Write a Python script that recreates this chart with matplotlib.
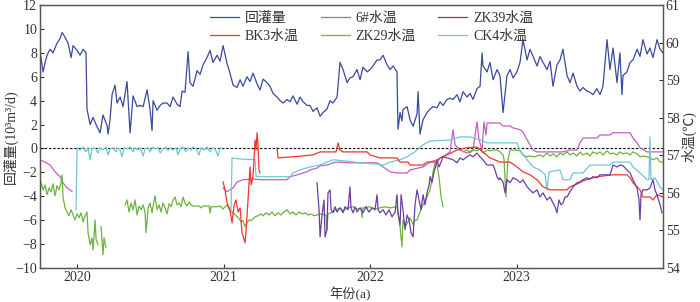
import numpy as np
import matplotlib
matplotlib.use("Agg")
import matplotlib.pyplot as plt

plt.rcParams['font.family'] = ['Liberation Serif', 'Noto Sans CJK SC', 'DejaVu Sans']
plt.rcParams['axes.unicode_minus'] = True
nan = np.nan

# ---------------- data (time in decimal years) ----------------
recharge_t = [2019.747, 2019.768, 2019.782, 2019.795, 2019.816, 2019.836, 2019.863, 2019.884, 2019.898, 2019.918,
              2019.939, 2019.959, 2019.973, 2020.000, 2020.020, 2020.041, 2020.061, 2020.068, 2020.089, 2020.109,
              2020.137, 2020.157, 2020.177, 2020.205, 2020.212, 2020.225, 2020.239, 2020.259, 2020.273, 2020.294,
              2020.314, 2020.341, 2020.362, 2020.382, 2020.410, 2020.430, 2020.451, 2020.478, 2020.498, 2020.512,
              2020.519, 2020.546, 2020.567, 2020.587, 2020.614, 2020.635, 2020.655, 2020.683, 2020.703, 2020.717,
              2020.737, 2020.758, 2020.771, 2020.792, 2020.819, 2020.840, 2020.860, 2020.887, 2020.908, 2020.928,
              2020.956, 2020.976, 2020.997, 2021.024, 2021.044, 2021.065, 2021.092, 2021.113, 2021.133, 2021.160,
              2021.181, 2021.201, 2021.229, 2021.249, 2021.270, 2021.297, 2021.317, 2021.338, 2021.365, 2021.386,
              2021.406, 2021.433, 2021.454, 2021.474, 2021.502, 2021.522, 2021.543, 2021.570, 2021.590, 2021.611,
              2021.638, 2021.659, 2021.679, 2021.706, 2021.727, 2021.747, 2021.775, 2021.795, 2021.816, 2021.843,
              2021.863, 2021.884, 2021.911, 2021.932, 2021.952, 2021.980, 2022.000, 2022.020, 2022.048, 2022.068,
              2022.089, 2022.116, 2022.137, 2022.157, 2022.184, 2022.191, 2022.205, 2022.218, 2022.225, 2022.253,
              2022.273, 2022.294, 2022.321, 2022.328, 2022.341, 2022.362, 2022.389, 2022.410, 2022.430, 2022.457,
              2022.478, 2022.498, 2022.526, 2022.546, 2022.567, 2022.594, 2022.614, 2022.635, 2022.662, 2022.683,
              2022.703, 2022.730, 2022.751, 2022.765, 2022.771, 2022.799, 2022.819, 2022.840, 2022.867, 2022.887,
              2022.908, 2022.935, 2022.956, 2022.976, 2023.003, 2023.024, 2023.044, 2023.072, 2023.092, 2023.113,
              2023.140, 2023.160, 2023.181, 2023.208, 2023.229, 2023.249, 2023.276, 2023.297, 2023.317, 2023.345,
              2023.365, 2023.386, 2023.413, 2023.433, 2023.454, 2023.481, 2023.502, 2023.522, 2023.549, 2023.570,
              2023.590, 2023.618, 2023.638, 2023.659, 2023.686, 2023.706, 2023.720, 2023.727, 2023.754, 2023.775,
              2023.795, 2023.823, 2023.843, 2023.863, 2023.891, 2023.911, 2023.932, 2023.959, 2023.980, 2024.000]
recharge_v = [8.1, 6.4, 7.2, 7.8, 8.3, 8.0, 8.8, 9.2, 9.7, 9.3,
              8.8, 7.6, 8.6, 8.2, 7.8, 8.3, 8.0, 3.3, 2.0, 2.6,
              1.8, 1.3, 2.8, 1.9, 1.2, 2.4, 4.5, 5.3, 3.8, 4.3,
              3.5, 5.6, 1.3, 4.4, 3.5, 3.6, 3.5, 4.9, 3.3, 1.5,
              4.0, 3.2, 3.6, 3.8, 3.8, 3.5, 4.3, 3.7, 3.5, 4.8,
              4.7, 8.1, 5.5, 5.2, 6.5, 6.2, 7.0, 7.6, 8.2, 7.2,
              7.8, 7.3, 8.6, 7.1, 6.3, 5.3, 5.1, 5.75, 5.2, 6.0,
              5.6, 6.3, 5.4, 4.9, 5.8, 5.5, 5.2, 4.6, 4.3, 4.0,
              3.8, 4.1, 3.9, 4.4, 3.7, 4.3, 3.9, 3.6, 3.6, 3.1,
              3.4, 2.7, 3.0, 3.3, 4.0, 3.8, 4.3, 7.2, 6.6, 5.5,
              5.9, 6.0, 6.6, 5.75, 6.8, 6.4, 6.6, 6.9, 7.4, 7.4,
              7.8, 7.0, 6.6, 6.9, 6.4, 1.6, 3.0, 2.3, 3.25, 3.5,
              2.4, 1.85, 2.9, 4.75, 1.2, 2.4, 3.0, 3.3, 3.5, 3.4,
              3.9, 3.6, 4.1, 4.2, 4.1, 4.5, 3.9, 4.75, 4.3, 4.6,
              4.1, 5.0, 5.2, 8.0, 6.9, 6.4, 7.2, 5.75, 6.6, 6.1,
              3.0, 6.1, 6.6, 5.9, 6.4, 7.2, 9.1, 7.4, 8.3, 7.7,
              6.9, 7.7, 7.2, 6.6, 7.3, 5.2, 7.0, 7.4, 8.3, 6.1,
              5.5, 6.3, 5.2, 4.8, 5.1, 4.8, 4.7, 4.5, 5.0, 4.5,
              5.2, 9.1, 6.6, 8.4, 5.5, 8.0, 4.5, 6.1, 6.4, 7.2,
              7.4, 8.3, 7.7, 9.1, 7.9, 8.4, 7.6, 9.1, 8.3, 8.0]

bk3_t = [2020.997, 2021.010, 2021.024, 2021.044, 2021.058, 2021.072, 2021.085, 2021.099, 2021.113, 2021.126,
         2021.147, 2021.154, 2021.167, 2021.181, 2021.188, 2021.201, 2021.208, 2021.215, 2021.222, 2021.229,
         2021.235, 2021.242, 2021.249, 2021.300,
         2021.365, 2021.372, 2021.474, 2021.611, 2021.659, 2021.768, 2021.775, 2021.782, 2021.795, 2021.816,
         2021.980, 2022.000, 2022.068, 2022.184, 2022.205, 2022.259, 2022.273, 2022.362, 2022.389, 2022.457,
         2022.478, 2022.526, 2022.594, 2022.662, 2022.730, 2022.771, 2022.819, 2022.887, 2022.956, 2023.003,
         2023.044, 2023.092, 2023.140, 2023.181, 2023.229, 2023.345, 2023.365, 2023.433, 2023.454, 2023.549,
         2023.659, 2023.754, 2023.775, 2023.795, 2023.823, 2023.843, 2023.863, 2023.911, 2023.932, 2023.959,
         2023.980, 2024.000]
bk3_v = [56.29, 56.08, 55.73, 55.55, 55.20, 55.68, 55.81, 55.49, 55.60, 54.94,
         54.67, 55.02, 55.81, 56.69, 56.21, 56.43, 56.88, 57.41, 57.14, 57.60,
         57.28, 56.61, 56.53, nan,
         57.20, 56.93, 56.96, 57.01, 57.09, 57.09, 57.22, 57.33, 57.14, 57.09,
         57.09, 57.01, 56.93, 56.93, 56.82, 56.82, 56.74, 56.74, 56.82, 56.82,
         56.93, 57.01, 57.14, 57.20, 57.22, 57.09, 56.93, 56.82, 56.82, 56.69,
         56.56, 56.48, 56.35, 56.16, 56.08, 56.08, 56.16, 56.27, 56.32, 56.43,
         56.48, 56.48, 56.40, 56.27, 56.16, 56.08, 55.89, 55.89, 55.81, 55.95,
         55.92, 55.89]

w6_t = [2019.747, 2019.782, 2019.816, 2019.850, 2019.884, 2019.904, 2019.932, 2019.952, 2019.966, 2020.500,
        2020.997, 2021.024, 2021.044, 2021.065, 2021.092, 2021.113, 2021.133, 2021.201, 2021.249, 2021.433,
        2021.454, 2021.502, 2021.543, 2021.570, 2021.590, 2021.638, 2021.659, 2021.706, 2021.747, 2021.775,
        2021.863, 2022.048, 2022.089, 2022.137, 2022.184, 2022.253, 2022.273, 2022.362, 2022.410, 2022.457,
        2022.498, 2022.546, 2022.567, 2022.580, 2022.614, 2022.662, 2022.703, 2022.730, 2022.744, 2022.765,
        2022.778, 2022.792, 2022.799, 2022.887, 2022.908, 2022.956, 2022.976, 2023.024, 2023.044, 2023.072,
        2023.092, 2023.113, 2023.140, 2023.317, 2023.365, 2023.413, 2023.433, 2023.454, 2023.549, 2023.570,
        2023.638, 2023.659, 2023.775, 2023.795, 2023.823, 2023.843, 2023.891, 2024.000]
w6_v = [56.88, 56.82, 56.74, 56.56, 56.43, 56.27, 56.13, 56.08, 56.03, nan,
        56.13, 56.03, 56.08, 56.13, 56.29, 56.32, 56.35, 56.37, 56.35, 56.35,
        56.43, 56.48, 56.53, 56.56, 56.61, 56.66, 56.72, 56.74, 56.80, 56.82,
        56.80, 56.80, 56.69, 56.56, 56.53, 56.53, 56.61, 56.69, 56.82, 56.88,
        56.96, 57.09, 57.68, 57.28, 57.14, 57.06, 57.14, 57.89, 57.41, 57.14,
        57.89, 57.54, 57.86, 57.86, 57.78, 57.78, 57.73, 57.68, 57.62, 57.41,
        57.28, 57.14, 57.09, 57.09, 57.14, 57.14, 57.33, 57.46, 57.46, 57.54,
        57.54, 57.60, 57.60, 57.46, 57.33, 57.20, 57.09, 57.09]

zk29_t = [2019.747, 2019.754, 2019.768, 2019.782, 2019.795, 2019.809, 2019.823, 2019.836, 2019.850, 2019.863,
          2019.877, 2019.891, 2019.898, 2019.904, 2019.918, 2019.932, 2019.945, 2019.959, 2019.973, 2019.986,
          2020.000, 2020.014, 2020.027, 2020.041, 2020.055, 2020.068, 2020.075, 2020.089, 2020.102, 2020.109,
          2020.123, 2020.130, 2020.143, 2020.150, 2020.164, 2020.177, 2020.184, 2020.198, 2020.260,
          2020.328, 2020.341, 2020.355, 2020.369, 2020.382, 2020.396, 2020.410, 2020.423, 2020.437, 2020.451,
          2020.464, 2020.471, 2020.485, 2020.498, 2020.512, 2020.526, 2020.532, 2020.546, 2020.560, 2020.573,
          2020.587, 2020.601, 2020.614, 2020.628, 2020.642, 2020.655, 2020.669, 2020.683, 2020.696, 2020.710,
          2020.724, 2020.737, 2020.751, 2020.765, 2020.778, 2020.792, 2020.833, 2020.846, 2020.860, 2020.901,
          2020.908, 2020.915, 2020.956, 2020.976, 2020.997, 2021.010, 2021.024, 2021.044, 2021.065, 2021.085,
          2021.106, 2021.119, 2021.133, 2021.147, 2021.160, 2021.174, 2021.188, 2021.201, 2021.215, 2021.235,
          2021.256, 2021.270, 2021.290, 2021.311, 2021.331, 2021.352, 2021.372, 2021.392, 2021.413, 2021.433,
          2021.454, 2021.474, 2021.495, 2021.515, 2021.536, 2021.556, 2021.577, 2021.597, 2021.618, 2021.638,
          2021.659, 2021.700, 2021.706, 2021.713, 2021.747, 2021.768, 2021.795, 2021.816, 2021.843, 2021.884,
          2021.911, 2021.939, 2021.945, 2021.952, 2022.000, 2022.034, 2022.068, 2022.102, 2022.137, 2022.184,
          2022.198, 2022.205, 2022.218, 2022.225, 2022.239, 2022.259, 2022.273, 2022.294, 2022.307, 2022.321,
          2022.341, 2022.362, 2022.389, 2022.410, 2022.430, 2022.444, 2022.457, 2022.471, 2022.485, 2022.498,
          2022.560,
          2022.635, 2022.662, 2022.683, 2022.703, 2022.730, 2022.751, 2022.771, 2022.799, 2022.819, 2022.840,
          2022.867, 2022.887, 2022.908, 2022.915, 2022.922, 2022.928, 2022.935, 2022.942, 2022.956, 2022.990,
          2023.024, 2023.044, 2023.072, 2023.092, 2023.126, 2023.160, 2023.181, 2023.208, 2023.229, 2023.249,
          2023.276, 2023.297, 2023.317, 2023.345, 2023.365, 2023.386, 2023.413, 2023.433, 2023.454, 2023.481,
          2023.502, 2023.522, 2023.549, 2023.570, 2023.590, 2023.618, 2023.638, 2023.659, 2023.686, 2023.706,
          2023.727, 2023.754, 2023.775, 2023.795, 2023.823, 2023.843, 2023.863, 2023.891, 2023.911, 2023.932,
          2023.959, 2023.980, 2024.000]
zk29_v = [55.89, 56.29, 56.08, 56.21, 55.95, 56.13, 56.03, 56.24, 55.92, 56.19,
          56.08, 56.27, 56.48, 55.89, 55.60, 55.49, 55.39, 55.55, 55.41, 55.28,
          55.44, 55.34, 55.47, 55.23, 55.39, 55.49, 54.94, 54.62, 54.80, 54.48,
          55.28, 54.75, 54.62, nan, 55.10, 54.35, 54.80, 54.54, nan,
          55.68, 55.81, 55.49, 55.73, 55.55, 55.81, 55.41, 55.65, 55.55, 55.68,
          55.49, 54.94, 55.60, 55.73, 55.47, 55.81, 55.92, 55.55, 55.68, 55.49,
          55.73, 55.60, 55.44, 55.71, 55.63, 55.81, 55.89, 55.68, 55.73, 55.63,
          55.89, 55.73, 55.65, 55.76, 55.68, 55.65, 55.65, 55.60, 55.65, 55.65,
          55.47, 55.63, 55.63, 55.65, 55.57, 55.63, 55.68, 55.52, 55.47, 55.39,
          55.31, 55.23, 55.26, 55.10, 55.20, 55.28, 55.26, 55.31, 55.36, 55.39,
          55.44, 55.39, 55.47, 55.41, 55.49, 55.39, 55.47, 55.41, 55.49, 55.55,
          55.44, 55.49, 55.41, 55.49, 55.44, 55.47, 55.41, 55.44, 55.39, 55.41,
          55.44, 55.41, 55.02, 55.44, 55.49, 55.55, 55.60, 55.52, 55.60, 55.63,
          55.57, 55.60, 55.34, 55.60, 55.63, 55.57, 55.60, 55.63, 55.60, 55.63,
          55.28, 55.10, 54.56, 55.28, 55.10, 55.23, 55.34, 55.15, 55.28, 55.28,
          55.49, 55.68, 55.89, 56.08, 56.56, 56.80, 56.74, 56.43, 55.89, 55.63,
          nan,
          57.09, 57.14, 57.06, 57.14, 57.12, 57.17, 57.06, 57.14, 57.12, 57.14,
          57.14, 57.09, 57.01, 56.88, 56.35, 55.89, 56.48, 56.88, 57.14, 57.14,
          57.12, 57.01, 56.96, 56.98, 56.96, 57.01, 56.96, 57.06, 56.98, 57.04,
          56.96, 57.06, 57.01, 57.09, 57.01, 57.06, 56.98, 57.09, 57.01, 57.06,
          56.98, 57.09, 57.04, 57.09, 57.01, 57.12, 57.04, 57.06, 57.01, 57.09,
          57.04, 57.06, 57.01, 57.09, 57.04, 56.96, 56.98, 56.96, 56.93, 56.88,
          56.93, 56.82, 56.82]

zk39_t = [2021.638, 2021.652, 2021.659, 2021.672, 2021.686, 2021.693, 2021.706, 2021.713, 2021.727, 2021.734,
          2021.747, 2021.761, 2021.775, 2021.795, 2021.816, 2021.829, 2021.850, 2021.863, 2021.870, 2021.884,
          2021.898, 2021.911, 2021.932, 2021.952, 2021.973, 2021.993, 2022.014, 2022.034, 2022.048, 2022.055,
          2022.068, 2022.089, 2022.109, 2022.130, 2022.150, 2022.171, 2022.184, 2022.191, 2022.205, 2022.212,
          2022.225, 2022.239, 2022.253, 2022.266, 2022.280, 2022.294, 2022.307, 2022.321, 2022.335, 2022.348,
          2022.362, 2022.375, 2022.389, 2022.403, 2022.410, 2022.423, 2022.437, 2022.451, 2022.457, 2022.471,
          2022.485, 2022.498, 2022.526, 2022.567, 2022.594, 2022.614, 2022.635, 2022.662, 2022.683, 2022.703,
          2022.730, 2022.751, 2022.771, 2022.799, 2022.840, 2022.853, 2022.867, 2022.880, 2022.887, 2022.908,
          2022.922, 2022.935, 2022.956, 2022.976, 2023.003, 2023.024, 2023.044, 2023.072, 2023.092, 2023.113,
          2023.140, 2023.160, 2023.181, 2023.208, 2023.229, 2023.249, 2023.263, 2023.276, 2023.290, 2023.304,
          2023.317, 2023.331, 2023.345, 2023.365, 2023.386, 2023.413, 2023.433, 2023.454, 2023.481, 2023.502,
          2023.522, 2023.549, 2023.570, 2023.638, 2023.659, 2023.686, 2023.706, 2023.727, 2023.754, 2023.775,
          2023.795, 2023.823, 2023.836, 2023.843, 2023.850, 2023.863, 2023.891, 2023.911, 2023.932, 2023.945,
          2023.959, 2023.980, 2023.993]
zk39_v = [56.27, 55.55, 54.83, 55.41, 55.81, 54.83, 55.02, 56.00, 56.08, 55.55,
          55.47, 55.63, 55.49, 55.60, 55.47, 55.63, 55.55, 56.16, 55.60, 55.47,
          55.63, 55.49, 55.60, 55.47, 55.63, 55.49, 55.60, 55.55, 55.95, 55.55,
          55.47, 55.55, 55.41, 55.55, 55.36, 55.49, 55.95, 55.47, 55.15, 55.95,
          55.55, 55.02, 55.41, 55.28, 54.94, 54.83, 55.68, 56.08, 55.81, 55.55,
          55.95, 55.68, 56.00, 56.21, 56.43, 56.27, 56.56, 56.74, 56.88, 56.69,
          56.82, 56.96, 56.93, 56.88, 56.80, 56.93, 56.88, 56.96, 57.01, 56.96,
          57.06, 56.96, 56.88, 56.74, 56.74, 56.61, 56.43, 56.35, 56.40, 56.29,
          56.00, 56.35, 56.27, 56.40, 56.35, 56.27, 56.35, 56.16, 56.08, 56.00,
          56.08, 55.89, 56.00, 55.81, 55.89, 55.73, 55.63, 55.47, 55.81, 55.68,
          55.73, 55.89, 55.89, 56.03, 56.16, 56.27, 56.29, 56.35, 56.40, 56.37,
          56.43, 56.40, 56.48, 56.48, 56.74, 56.69, 56.74, 56.72, 56.61, 56.53,
          56.35, 56.13, 55.81, 55.28, 55.95, 56.08, 56.08, 56.13, 56.35, 56.08,
          55.95, 55.68, 55.47]

ck4_t = [2019.993, 2020.000, 2020.020, 2020.041, 2020.061, 2020.075, 2020.089, 2020.102, 2020.123, 2020.143,
         2020.157, 2020.177, 2020.198, 2020.212, 2020.225, 2020.246, 2020.266, 2020.280, 2020.294, 2020.307,
         2020.321, 2020.341, 2020.362, 2020.382, 2020.396, 2020.416, 2020.430, 2020.451, 2020.464, 2020.485,
         2020.498, 2020.519, 2020.532, 2020.553, 2020.567, 2020.587, 2020.608, 2020.621, 2020.635, 2020.655,
         2020.676, 2020.689, 2020.703, 2020.724, 2020.744, 2020.758, 2020.778, 2020.792, 2020.812, 2020.833,
         2020.846, 2020.867, 2020.887, 2020.908, 2020.922, 2020.942, 2020.962, 2020.976, 2020.990, 2021.020,
         2021.051, 2021.058, 2021.113, 2021.215, 2021.222, 2021.454, 2021.474, 2021.522, 2021.590, 2021.659,
         2021.706, 2021.747, 2021.829, 2021.932, 2022.034, 2022.089, 2022.137, 2022.205, 2022.253, 2022.294,
         2022.321, 2022.362, 2022.410, 2022.546, 2022.614, 2022.683, 2022.751, 2022.799, 2023.003, 2023.024,
         2023.072, 2023.113, 2023.160, 2023.195, 2023.208, 2023.222, 2023.297, 2023.317, 2023.365, 2023.386,
         2023.454, 2023.502, 2023.638, 2023.659, 2023.775, 2023.795, 2023.843, 2023.891, 2023.904, 2023.911,
         2023.918, 2023.945, 2023.980, 2024.000]
ck4_v = [55.55, 57.20, 57.14, 57.22, 57.09, 57.20, 56.88, 57.17, 57.20, 57.06,
         57.20, 57.14, 57.22, 57.01, 57.17, 57.20, 57.09, 57.20, 57.14, 56.96,
         57.20, 57.17, 57.22, 57.09, 57.20, 57.14, 57.20, 56.98, 57.17, 57.20,
         57.09, 57.22, 57.17, 57.20, 57.06, 57.17, 57.22, 57.12, 57.20, 57.14,
         57.20, 57.01, 57.17, 57.22, 57.09, 57.20, 57.14, 57.22, 57.17, 57.01,
         57.20, 57.14, 57.22, 57.09, 57.20, 57.17, 56.98, 57.20, 57.17, nan,
         55.55, 56.93, 56.90, 56.88, 56.43, 56.43, 56.53, 56.61, 56.69, 56.74,
         56.82, 56.88, 56.85, 56.80, 56.77, 56.74, 56.82, 56.88, 56.96, 57.06,
         57.14, 57.28, 57.38, 57.41, 57.49, 57.49, 57.41, 57.33, 57.33, 57.14,
         56.88, 56.69, 56.61, 56.48, 56.08, 56.56, 56.61, 56.35, 56.35, 56.53,
         56.53, 56.74, 56.74, 56.82, 56.82, 56.69, 56.53, 56.35, 56.35, 57.49,
         56.35, 56.40, 56.16, 56.08]

year_ticks = [2020, 2021, 2022, 2023]
left_ticks = list(range(-10, 13, 2))
right_ticks = list(range(54, 62))

# ---------------- figure ----------------
fig = plt.figure(figsize=(7.0, 3.02), dpi=100)
ax = fig.add_axes([40/700, 1 - 268/302, 623/700, 263/302])
ax2 = ax.twinx()

c_blue = '#3a4a9c'
c_red = '#f0362a'
c_mag = '#c25fc4'
c_green = '#6db33f'
c_purple = '#6b3fa0'
c_cyan = '#6ec8d2'

lw = 0.9
l1, = ax.plot(recharge_t, recharge_v, color=c_blue, lw=lw, label='回灌量')
ax.axhline(0, color='black', lw=0.8, ls=(0, (2.2, 1.6)))

l3, = ax2.plot(w6_t, w6_v, color=c_mag, lw=lw, label='6#水温')
l4, = ax2.plot(zk29_t, zk29_v, color=c_green, lw=lw, label='ZK29水温')
l6, = ax2.plot(ck4_t, ck4_v, color=c_cyan, lw=lw, label='CK4水温')
l2, = ax2.plot(bk3_t, bk3_v, color=c_red, lw=lw, label='BK3水温')
l5, = ax2.plot(zk39_t, zk39_v, color=c_purple, lw=lw, label='ZK39水温')

ax.set_xlim(2019.747, 2024.0)
ax.set_ylim(-10, 12)
ax2.set_ylim(54, 61)
ax.set_xticks(year_ticks)
ax.set_xticklabels([str(y) for y in year_ticks])
ax.set_yticks(left_ticks)
ax2.set_yticks(right_ticks)

fs = 10
tcol = '#333333'
for a in (ax, ax2):
    for s in a.spines.values():
        s.set_color('#555555')
        s.set_linewidth(0.9)
ax.tick_params(axis='both', direction='in', labelsize=fs, colors=tcol, length=3, width=0.8)
ax.tick_params(axis='x', pad=2)
ax.tick_params(axis='y', pad=2)
ax2.tick_params(axis='y', direction='in', labelsize=fs, colors=tcol, length=3, width=0.8, pad=2)

ax.set_xlabel('年份(a)', fontsize=9.5, color=tcol)
ax.xaxis.set_label_coords((350 - 40) / 623, (268 - 294) / 263)
ax.xaxis.label.set_va('center')
ax.set_ylabel('回灌量(10³m³/d)', fontsize=fs, color=tcol)
ax.yaxis.set_label_coords((10 - 40) / 623, 0.5)
ax.yaxis.label.set_va('center')
ax2.set_ylabel('水温(℃)', fontsize=fs, color=tcol)
ax2.yaxis.set_label_coords((689 - 40) / 623, 0.5)
ax2.yaxis.label.set_va('center')

handles = [l1, l2, l3, l4, l5, l6]
leg = ax2.legend(handles=handles, labels=[h.get_label() for h in handles], ncol=3,
                 loc='upper left', bbox_to_anchor=(0.262, 1.0), frameon=False,
                 fontsize=fs, handlelength=2.1, handletextpad=0.4,
                 columnspacing=1.6, labelspacing=0.3, borderaxespad=0.1)
for t in leg.get_texts():
    t.set_color(tcol)

fig.savefig('out.png', dpi=100)
